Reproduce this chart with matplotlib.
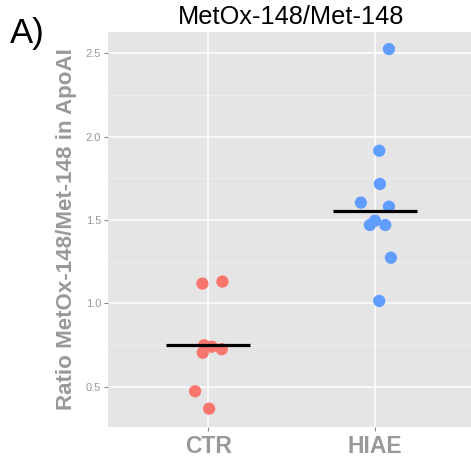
import matplotlib
matplotlib.use("Agg")
import matplotlib.pyplot as plt
from matplotlib.ticker import MultipleLocator

plt.rcParams['font.family'] = ['Liberation Sans', 'DejaVu Sans']

categories = ["CTR", "HIAE"]
ctr_values = [1.119, 1.131, 0.750, 0.741, 0.705, 0.726, 0.474, 0.370]
ctr_jitter = [-0.034, 0.086, -0.024, 0.022, -0.032, 0.082, -0.078, 0.006]
hiae_values = [2.524, 1.915, 1.716, 1.604, 1.580, 1.496, 1.470, 1.470, 1.274, 1.015]
hiae_jitter = [0.084, 0.026, 0.030, -0.084, 0.084, 0.0, -0.030, 0.062, 0.096, 0.026]
center_lines = [0.752, 1.556]
colors = ["#F8766D", "#619CFF"]

fig = plt.figure(figsize=(4.71, 4.57), dpi=100)
ax = fig.add_axes([108 / 471, 30 / 457, 367 / 471, 395 / 457])
ax.set_facecolor("#E5E5E5")
for s in ax.spines.values():
    s.set_visible(False)

ax.set_xlim(0.4, 2.6)
ax.set_ylim(0.26, 2.626)
ax.yaxis.set_major_locator(MultipleLocator(0.5))
ax.yaxis.set_minor_locator(MultipleLocator(0.25))
ax.set_xticks([1, 2])
ax.set_xticklabels(categories)
ax.grid(which="major", color="white", linewidth=1.1)
ax.grid(which="minor", axis="y", color="#F2F2F2", linewidth=0.5)
ax.set_axisbelow(True)

groups = [(ctr_values, ctr_jitter), (hiae_values, hiae_jitter)]
for i, (vals, jit) in enumerate(groups):
    xs = [i + 1 + j for j in jit]
    ax.scatter(xs, vals, s=78, color=colors[i], edgecolors="none", zorder=3)
    ax.plot([i + 1 - 0.25, i + 1 + 0.25], [center_lines[i]] * 2,
            color="black", linewidth=2.3, zorder=4, solid_capstyle="butt")

ax.tick_params(axis="y", which="major", length=3, color="#8C8C8C",
               labelcolor="#999999", labelsize=8, pad=2)
ax.tick_params(axis="y", which="minor", length=0)
ax.tick_params(axis="x", length=3, color="#8C8C8C", labelcolor="#999999",
               labelsize=16.5, pad=3)
for lbl in ax.get_xticklabels():
    lbl.set_fontweight("bold")
ax.yaxis.set_major_formatter(matplotlib.ticker.FormatStrFormatter("%.1f"))

ax.set_ylabel("Ratio MetOx-148/Met-148 in ApoAI", fontsize=16.1,
              fontweight="bold", color="#999999", labelpad=6)
fig.text(291 / 471, 1 - 17 / 457, "MetOx-148/Met-148", fontsize=18.3,
         ha="center", va="center", color="black")
fig.text(10 / 471, 1 - 33 / 457, "A)", fontsize=25, ha="left", va="center",
         color="black")

fig.savefig("out.png", dpi=100)
